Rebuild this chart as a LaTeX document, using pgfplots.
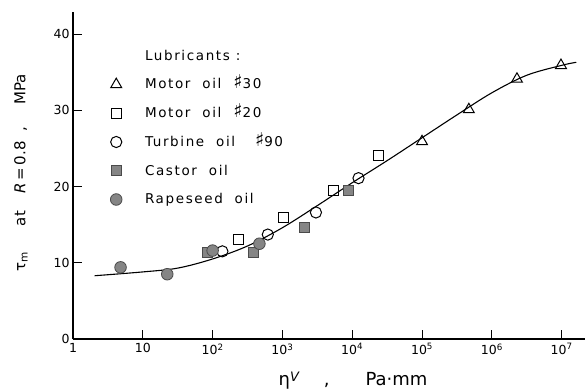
\documentclass[border=0pt]{standalone}
\usepackage{pgfplots}
\pgfplotsset{compat=1.18}
\usepackage{graphicx}
\usepackage{fontspec}
\setmainfont{DejaVu Sans}
\newfontfamily\legfont[LetterSpace=12]{DejaVu Sans}
\newcommand{\shp}{\smash{\fontspec{DejaVu Sans}\fontsize{19}{15}\selectfont ♯}}
\definecolor{markgray}{HTML}{858585}
\definecolor{markedge}{HTML}{4A4A4A}
\begin{document}
\begin{tikzpicture}
\useasboundingbox (-73pt,-51pt) rectangle (512pt,339pt);
\begin{axis}[
  at={(0pt,0pt)}, anchor=south west,
  scale only axis, width=512pt, height=327pt,
  xmode=log, xmin=1, xmax=2.16e7, ymin=0, ymax=42.9,
  axis x line=bottom, axis y line=left,
  axis line style={-, line width=1.1pt},
  tick align=inside, major tick length=9pt,
  tick style={black, line width=1pt},
  xminorticks=false, yminorticks=false,
  xtick={1,10,100,1000,10000,100000,1000000,10000000},
  xticklabels={1,10,10\textsuperscript{2},10\textsuperscript{3},10\textsuperscript{4},10\textsuperscript{5},10\textsuperscript{6},10\textsuperscript{7}},
  ytick={0,10,20,30,40},
  yticklabels={0,10,20,30,40},
  ticklabel style={font=\fontsize{12.5}{14}\selectfont},
  xticklabel style={yshift=-1pt},
  xlabel={η\raisebox{4pt}{\fontsize{13}{14}\selectfont\textit{V}}\hspace{24pt},\hspace{36pt}Pa·mm},
  xlabel style={at={(rel axis cs:0.547,0)}, anchor=base, yshift=-46pt, font=\fontsize{18}{20}\selectfont},
  ylabel={τ\textsubscript{m}\hspace{26pt}at\hspace{18pt}\textit{R}\,=\,0.8\hspace{10pt},\hspace{22pt}MPa},
  ylabel style={at={([xshift=-52pt]rel axis cs:0,0.508)}, anchor=center, font=\fontsize{15}{17}\selectfont},
  legend style={draw=none, fill=none, inner sep=0pt,
    at={(rel axis cs:0.0674,0.891)}, anchor=north west,
    font=\legfont\fontsize{13.5}{15}\selectfont,
    row sep=13pt, column sep=21pt, cells={anchor=west}},
  clip=false,
]
% fitted curve
\addplot[black, line width=1.1pt, smooth, tension=0.55, forget plot] coordinates {
  (2.04,8.3) (10,8.8) (31.6,9.3) (100,10.5) (316,12.2) (1000,14.6)
  (3162,17.5) (10000,20.5) (31623,23.4) (100000,26.4) (316228,29.4)
  (1000000,32.3) (3162278,34.6) (10000000,35.9) (16200000,36.3)
};
\addlegendimage{empty legend}
\addlegendentry{Lubricants :}
% Motor oil #30
\addplot[only marks, mark=triangle, mark size=6.3pt, mark options={black, fill=white, line width=1pt}] coordinates {
  (100000,25.9) (468000,30.1) (2290000,34.1) (9770000,35.9)
};
\addlegendentry{Motor\hspace{6pt} oil\hspace{6pt} \shp30}
% Motor oil #20
\addplot[only marks, mark=square, mark size=5pt, mark options={black, fill=white, line width=1pt}] coordinates {
  (234,13.1) (1023,15.9) (5370,19.5) (23400,24.1)
};
\addlegendentry{Motor\hspace{6pt} oil\hspace{6pt} \shp20}
% Turbine oil #90
\addplot[only marks, mark=o, mark size=5.6pt, mark options={black, fill=white, line width=1pt}] coordinates {
  (138,11.5) (617,13.7) (3020,16.6) (12300,21.1)
};
\addlegendentry{Turbine\hspace{6pt} oil\hspace{14pt} \shp90}
% Castor oil
\addplot[only marks, mark=square*, mark size=5pt, mark options={draw=markedge, fill=markgray, line width=0.8pt}] coordinates {
  (85,11.4) (389,11.4) (2040,14.7) (8710,19.5)
};
\addlegendentry{Castor\hspace{6pt} oil}
% Rapeseed oil
\addplot[only marks, mark=*, mark size=5.8pt, mark options={draw=markedge, fill=markgray, line width=0.8pt}] coordinates {
  (4.8,9.4) (22.4,8.5) (100,11.6) (468,12.5)
};
\addlegendentry{Rapeseed\hspace{6pt} oil}
\end{axis}
\end{tikzpicture}
\end{document}
